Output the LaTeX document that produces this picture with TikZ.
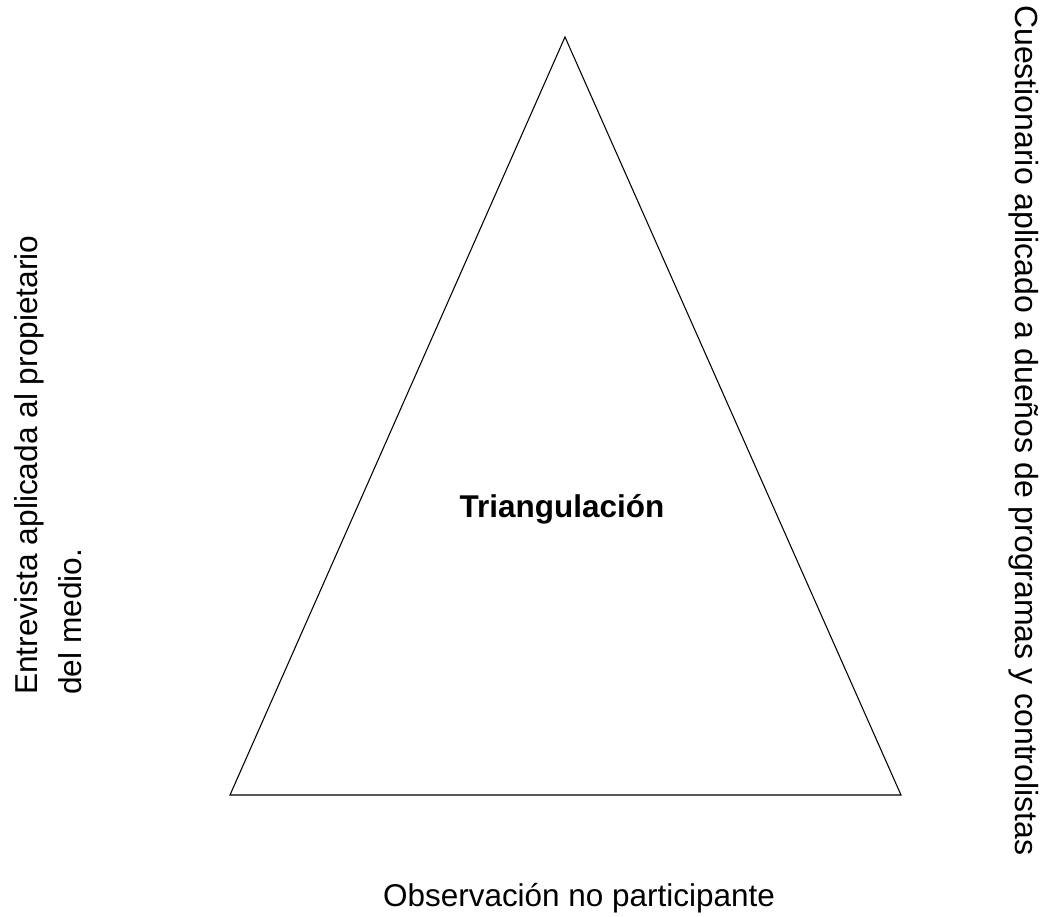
\documentclass[tikz,border=0pt]{standalone}
\usepackage{fontspec}
\setmainfont{Liberation Sans}
\usepackage{tikz}
\newcommand{\lbl}{\fontsize{23.6}{33}\selectfont}

\begin{document}
\begin{tikzpicture}[x=0.75pt,y=-0.75pt,
    txt/.style={font=\lbl,inner sep=0pt},
    side/.style={line width=0.8pt}]
  \useasboundingbox[fill=white] (0,0) rectangle (1054,917);
  % triangle
  \coordinate (top) at (565,37);
  \coordinate (bl) at (230,795);
  \coordinate (br) at (901,795);
  \draw[side] (top) -- (br) -- (bl) -- cycle;
  \node[txt,font=\lbl\bfseries,anchor=base] (tri) at (562,517) {Triangulación};
  % sources
  \node[txt,anchor=base] (obs) at (579,906) {Observación no participante};
  \node[txt,font=\fontsize{23.75}{33}\selectfont,rotate=90,anchor=base west] (ent) at (37,695) {Entrevista aplicada al propietario};
  \node[txt,font=\fontsize{23.75}{33}\selectfont,rotate=90,anchor=base west] (med) at (81,695) {del medio.};
  \node[txt,font=\fontsize{24}{33}\selectfont,rotate=-90,anchor=base west] (cue) at (1015,5) {Cuestionario aplicado a dueños de programas y controlistas};
\end{tikzpicture}
\end{document}
